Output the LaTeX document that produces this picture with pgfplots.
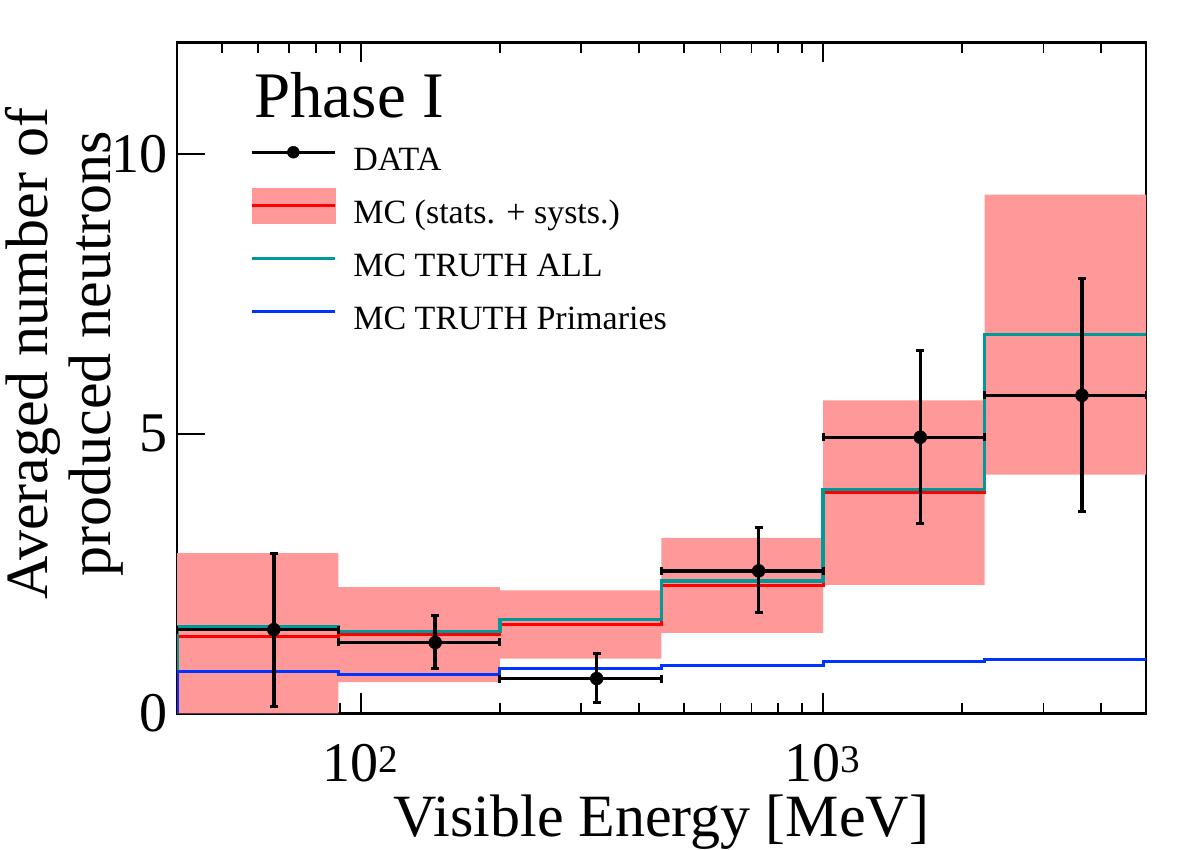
\documentclass[border=0pt]{standalone}
\usepackage{fontspec}
\setmainfont{Liberation Serif}
\usepackage{pgfplots}
\pgfplotsset{compat=1.18}
\usepackage{pgfplotstable}
\usepgfplotslibrary{fillbetween}

\definecolor{bandcol}{RGB}{255,153,153}
\definecolor{mcred}{RGB}{255,0,0}
\definecolor{truthall}{RGB}{0,153,153}
\definecolor{truthprim}{RGB}{0,51,255}

% Histogram steps: bin low edges (last row closes the final bin)
\pgfplotstableread{
e      lo    hi    mc     truth  prim
40     0     2.87  0      0      0
40     0     2.87  1.38   1.55   0.755
89.44  0.56  2.26  1.405  1.47   0.70
200    0.98  2.20  1.60   1.68   0.80
447.2  1.44  3.14  2.29   2.37   0.857
1000   2.30  5.60  3.95   4.01   0.935
2236   4.27  9.28  6.77   6.78   0.965
5000   4.27  9.28  6.77   6.78   0.965
}\hist

% Data points with bin-width x errors and asymmetric y errors
\pgfplotstableread{
x      y      exm    exp    eym    eyp
64.8   1.50   24.8   24.64  1.37   1.37
144.8  1.27   55.36  55.2   0.46   0.48
323.8  0.625  123.8  123.4  0.435  0.445
725.7  2.55   278.5  274.3  0.74   0.77
1624   4.94   624    612    1.55   1.56
3634   5.69   1398   1366   2.08   2.09
}\data

\begin{document}
\begin{tikzpicture}
\begin{axis}[
  scale only axis, width=969pt, height=671pt,
  xmode=log, xmin=40, xmax=5000, ymin=0, ymax=12,
  axis line style={line width=2.6pt},
  tick align=inside,
  tick style={black, line width=1.8pt},
  xtick={100,1000},
  xticklabels={10\textsuperscript{2},10\textsuperscript{3}},
  minor xtick={40,50,60,70,80,90,200,300,400,500,600,700,800,900,2000,3000,4000,5000},
  xtick pos=both, ytick pos=left,
  ytick={0,5,10}, yticklabels={0,5,10},
  xtick style={/pgfplots/major tick length=20pt, /pgfplots/minor tick length=10.5pt},
  ytick style={/pgfplots/major tick length=28pt},
  ticklabel style={font=\fontsize{56}{60}\selectfont},
  yticklabel style={anchor=east, inner sep=0pt, xshift=-9pt},
  xticklabel style={anchor=north, inner sep=0pt, yshift=-31pt, text depth=0pt},
  xlabel={Visible Energy [MeV]},
  xlabel style={font=\fontsize{60}{63}\selectfont, at={(axis description cs:0.5,-0.1836)}, anchor=base, inner sep=0pt, text height=40pt},
  ylabel={Averaged number of\\produced neutrons},
  ylabel style={font=\fontsize{60}{63}\selectfont, align=center, at={(axis description cs:-0.1165,0.536)}, anchor=center, inner sep=0pt},
  legend cell align=left,
  legend style={draw=none, fill=none, at={(rel axis cs:0.0755,0.8460)}, anchor=north west,
    font=\fontsize{34}{40}\selectfont, inner sep=0pt, row sep=20pt, column sep=17pt,
    nodes={inner sep=0pt, text height=24pt, text depth=9pt}},
]
% legend entries
\addlegendimage{legend image code/.code={
  \draw[black, line width=3pt] (0pt,11pt) -- (83pt,11pt);
  \fill[black] (41.5pt,11pt) circle (6pt);}}
\addlegendentry{DATA}
\addlegendimage{legend image code/.code={
  \fill[bandcol, overlay] (0pt,-6.5pt) rectangle (83pt,28.5pt);
  \draw[mcred, line width=3pt] (0pt,11pt) -- (83pt,11pt);}}
\addlegendentry{MC (stats. + systs.)}
\addlegendimage{legend image code/.code={
  \draw[truthall, line width=3pt] (0pt,11pt) -- (83pt,11pt);}}
\addlegendentry{MC TRUTH ALL}
\addlegendimage{legend image code/.code={
  \draw[truthprim, line width=3pt] (0pt,11pt) -- (83pt,11pt);}}
\addlegendentry{MC TRUTH Primaries}

% MC uncertainty band
\addplot[name path=up, draw=none, const plot, forget plot] table[x=e, y=hi] {\hist};
\addplot[name path=lo, draw=none, const plot, forget plot] table[x=e, y=lo] {\hist};
\addplot[bandcol, forget plot] fill between[of=up and lo];

% MC histograms
\addplot[mcred, line width=3pt, const plot, forget plot] table[x=e, y=mc] {\hist};
\addplot[truthall, line width=3.3pt, const plot, forget plot] table[x=e, y=truth] {\hist};
\addplot[truthprim, line width=3pt, const plot, forget plot] table[x=e, y=prim] {\hist};

% Data
\addplot[black, only marks, mark=*, mark size=6.5pt, forget plot,
  error bars/.cd, x dir=both, x explicit, y dir=both, y explicit,
  error bar style={line width=3.5pt, black},
  error mark options={rotate=90, line width=3pt, mark size=4pt, black}]
  table[x=x, y=y, x error minus=exm, x error plus=exp, y error minus=eym, y error plus=eyp] {\data};

\node[anchor=base west, inner sep=0pt, font=\fontsize{65}{70}\selectfont] at (rel axis cs:0.0795,0.8875) {Phase I};
\end{axis}
\pgfresetboundingbox
\useasboundingbox (-177pt,-136.5pt) rectangle (1005pt,713.5pt);
\end{tikzpicture}
\end{document}
